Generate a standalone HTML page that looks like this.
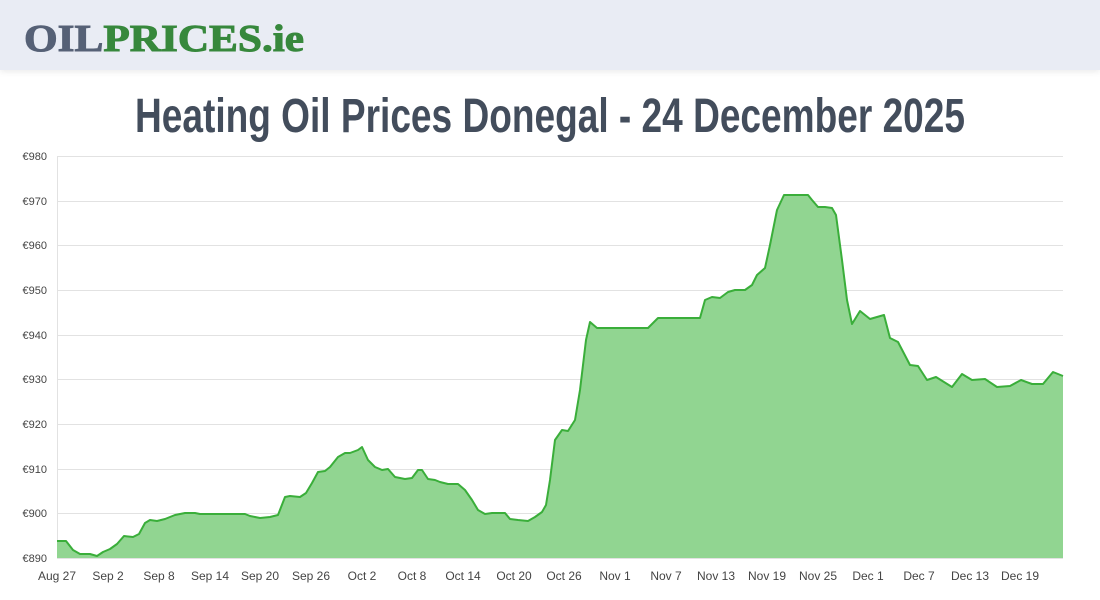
<!DOCTYPE html>
<html><head><meta charset="utf-8"><style>
body{margin:0;width:1100px;height:600px;background:#fff;overflow:hidden;font-family:"Liberation Sans",sans-serif}
.hdr{position:absolute;left:0;top:0;width:1100px;height:70px;background:#e9ecf4;box-shadow:0 2px 6px rgba(0,0,0,0.08)}
svg{position:absolute;left:0;top:0}
</style></head><body>
<div class="hdr"></div>
<svg width="1100" height="600" font-family="Liberation Sans, sans-serif" font-size="11" fill="#444">
<text x="24" y="51" font-family="Liberation Serif, serif" font-weight="bold" font-size="38" textLength="280" lengthAdjust="spacingAndGlyphs" stroke-width="1"><tspan fill="#566176" stroke="#566176">OIL</tspan><tspan fill="#37883c" stroke="#37883c">PRICES.ie</tspan></text>
<text x="135" y="132" font-weight="bold" font-size="48" fill="#434d5c" textLength="830" lengthAdjust="spacingAndGlyphs">Heating Oil Prices Donegal - 24 December 2025</text>
<g stroke="#e2e2e2" stroke-width="1">
<line x1="57" x2="1063" y1="156.5" y2="156.5"/><line x1="57" x2="1063" y1="201.5" y2="201.5"/><line x1="57" x2="1063" y1="245.5" y2="245.5"/><line x1="57" x2="1063" y1="290.5" y2="290.5"/><line x1="57" x2="1063" y1="335.5" y2="335.5"/><line x1="57" x2="1063" y1="379.5" y2="379.5"/><line x1="57" x2="1063" y1="424.5" y2="424.5"/><line x1="57" x2="1063" y1="469.5" y2="469.5"/><line x1="57" x2="1063" y1="513.5" y2="513.5"/><line x1="57" x2="1063" y1="558.5" y2="558.5"/><line x1="57.5" x2="57.5" y1="156" y2="558"/>
</g>
<g text-anchor="end"><text x="47" y="160">€980</text><text x="47" y="205">€970</text><text x="47" y="249">€960</text><text x="47" y="294">€950</text><text x="47" y="339">€940</text><text x="47" y="383">€930</text><text x="47" y="428">€920</text><text x="47" y="473">€910</text><text x="47" y="517">€900</text><text x="47" y="562">€890</text></g>
<g text-anchor="middle" font-size="12"><text x="57" y="580">Aug 27</text><text x="108" y="580">Sep 2</text><text x="159" y="580">Sep 8</text><text x="210" y="580">Sep 14</text><text x="260" y="580">Sep 20</text><text x="311" y="580">Sep 26</text><text x="362" y="580">Oct 2</text><text x="412" y="580">Oct 8</text><text x="463" y="580">Oct 14</text><text x="514" y="580">Oct 20</text><text x="564" y="580">Oct 26</text><text x="615" y="580">Nov 1</text><text x="666" y="580">Nov 7</text><text x="716" y="580">Nov 13</text><text x="767" y="580">Nov 19</text><text x="818" y="580">Nov 25</text><text x="868" y="580">Dec 1</text><text x="919" y="580">Dec 7</text><text x="970" y="580">Dec 13</text><text x="1020" y="580">Dec 19</text></g>
<polygon fill="#91d591" points="57,558 57,541 66,541 73,550 80,554 90,554 97,556 103,552 110,549 117,544 124,536 133,537 139,534 145,523 150,520 157,521 165,519 175,515 185,513 195,513 200,514 210,514 230,514 245,514 250,516 260,518 270,517 278,515 285,497 290,496 300,497 306,493 312,483 318,472 325,471 330,467 338,457 345,453 350,453 358,450 362,447 368,460 375,467 382,470 388,469 395,477 405,479 412,478 418,470 422,470 428,479 435,480 440,482 448,484 458,484 465,490 472,500 478,510 485,514 492,513 505,513 510,519 518,520 528,521 535,517 542,512 546,505 550,480 555,440 562,430 568,431 575,420 580,390 586,340 590,322 597,328 610,328 648,328 654,322 658,318 700,318 705,300 712,297 720,298 728,292 735,290 745,290 752,285 757,275 765,268 770,245 777,210 784,195 808,195 812,200 818,207 825,207 832,208 836,215 842,260 847,300 852,324 860,311 870,319 884,315 890,338 898,342 910,365 918,366 927,380 936,377 952,387 962,374 972,380 985,379 997,387 1010,386 1021,380 1032,384 1043,384 1053,372 1063,376 1063,558"/>
<polyline fill="none" stroke="#3aae3a" stroke-width="2" stroke-linejoin="round" points="57,541 66,541 73,550 80,554 90,554 97,556 103,552 110,549 117,544 124,536 133,537 139,534 145,523 150,520 157,521 165,519 175,515 185,513 195,513 200,514 210,514 230,514 245,514 250,516 260,518 270,517 278,515 285,497 290,496 300,497 306,493 312,483 318,472 325,471 330,467 338,457 345,453 350,453 358,450 362,447 368,460 375,467 382,470 388,469 395,477 405,479 412,478 418,470 422,470 428,479 435,480 440,482 448,484 458,484 465,490 472,500 478,510 485,514 492,513 505,513 510,519 518,520 528,521 535,517 542,512 546,505 550,480 555,440 562,430 568,431 575,420 580,390 586,340 590,322 597,328 610,328 648,328 654,322 658,318 700,318 705,300 712,297 720,298 728,292 735,290 745,290 752,285 757,275 765,268 770,245 777,210 784,195 808,195 812,200 818,207 825,207 832,208 836,215 842,260 847,300 852,324 860,311 870,319 884,315 890,338 898,342 910,365 918,366 927,380 936,377 952,387 962,374 972,380 985,379 997,387 1010,386 1021,380 1032,384 1043,384 1053,372 1063,376"/>
</svg>
</body></html>
